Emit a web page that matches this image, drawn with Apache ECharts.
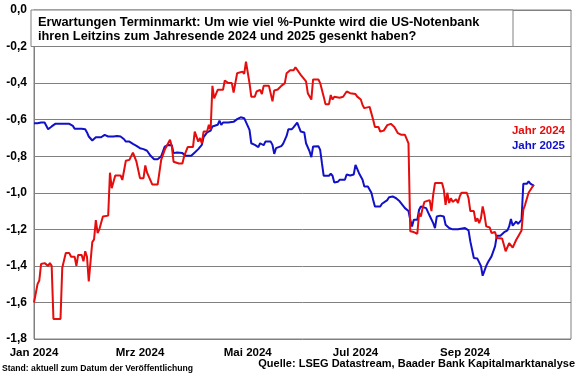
<!DOCTYPE html>
<html>
<head>
<meta charset="utf-8">
<script src="https://cdn.jsdelivr.net/npm/echarts@6/dist/echarts.min.js"></script>
<style>
html,body{margin:0;padding:0;background:#fff;}
#chart{width:580px;height:375px;}
</style>
</head>
<body>
<div id="chart"></div>
<script>
const titleLines = ['Erwartungen Terminmarkt: Um wie viel %-Punkte wird die US-Notenbank', 'ihren Leitzins zum Jahresende 2024 und 2025 gesenkt haben?'];
const seriesNames = ['Jahr 2024', 'Jahr 2025'];
const tickDates = ['2024-01-01', '2024-03-01', '2024-05-01', '2024-07-01', '2024-09-01'];
const tickLabels = ['Jan 2024', 'Mrz 2024', 'Mai 2024', 'Jul 2024', 'Sep 2024'];
const footLeft = 'Stand: aktuell zum Datum der Veröffentlichung';
const footRight = 'Quelle: LSEG Datastream, Baader Bank Kapitalmarktanalyse';

const redDates = ['2024-01-01','2024-01-03','2024-01-04','2024-01-05','2024-01-07','2024-01-09','2024-01-10','2024-01-11','2024-01-12','2024-01-16','2024-01-17','2024-01-18','2024-01-19','2024-01-21','2024-01-22','2024-01-24','2024-01-25','2024-01-26','2024-01-28','2024-01-29','2024-01-30','2024-01-31','2024-02-01','2024-02-02','2024-02-03','2024-02-04','2024-02-05','2024-02-06','2024-02-07','2024-02-09','2024-02-12','2024-02-13','2024-02-14','2024-02-15','2024-02-16','2024-02-19','2024-02-20','2024-02-22','2024-02-24','2024-02-25','2024-02-26','2024-02-27','2024-02-28','2024-02-29','2024-03-01','2024-03-03','2024-03-04','2024-03-05','2024-03-06','2024-03-08','2024-03-11','2024-03-13','2024-03-15','2024-03-18','2024-03-19','2024-03-20','2024-03-21','2024-03-23','2024-03-25','2024-03-26','2024-03-27','2024-03-28','2024-03-31','2024-04-01','2024-04-03','2024-04-04','2024-04-05','2024-04-06','2024-04-08','2024-04-09','2024-04-10','2024-04-11','2024-04-12','2024-04-13','2024-04-14','2024-04-17','2024-04-18','2024-04-20','2024-04-22','2024-04-23','2024-04-25','2024-04-28','2024-04-29','2024-04-30','2024-05-02','2024-05-03','2024-05-05','2024-05-06','2024-05-07','2024-05-08','2024-05-09','2024-05-10','2024-05-13','2024-05-14','2024-05-15','2024-05-16','2024-05-18','2024-05-20','2024-05-21','2024-05-22','2024-05-23','2024-05-25','2024-05-27','2024-05-28','2024-05-29','2024-05-31','2024-06-01','2024-06-03','2024-06-04','2024-06-06','2024-06-07','2024-06-08','2024-06-10','2024-06-11','2024-06-13','2024-06-14','2024-06-16','2024-06-17','2024-06-18','2024-06-19','2024-06-22','2024-06-23','2024-06-24','2024-06-26','2024-06-28','2024-07-01','2024-07-02','2024-07-04','2024-07-05','2024-07-06','2024-07-09','2024-07-11','2024-07-12','2024-07-14','2024-07-15','2024-07-17','2024-07-19','2024-07-21','2024-07-23','2024-07-25','2024-07-27','2024-07-29','2024-07-30','2024-07-31','2024-08-01','2024-08-03','2024-08-05','2024-08-06','2024-08-07','2024-08-08','2024-08-09','2024-08-12','2024-08-13','2024-08-14','2024-08-15','2024-08-19','2024-08-20','2024-08-21','2024-08-22','2024-08-23','2024-08-24','2024-08-25','2024-08-27','2024-08-28','2024-08-29','2024-08-30','2024-09-02','2024-09-03','2024-09-04','2024-09-06','2024-09-07','2024-09-08','2024-09-09','2024-09-10','2024-09-11','2024-09-12','2024-09-13','2024-09-15','2024-09-16','2024-09-18','2024-09-19','2024-09-20','2024-09-22','2024-09-23','2024-09-24','2024-09-25','2024-09-26','2024-09-27','2024-09-28','2024-09-29','2024-09-30','2024-10-01','2024-10-02','2024-10-03','2024-10-04','2024-10-05','2024-10-06','2024-10-07','2024-10-08','2024-10-09','2024-10-10'];
const redValues = [-1.60,-1.50,-1.48,-1.39,-1.385,-1.40,-1.385,-1.40,-1.69,-1.69,-1.41,-1.41,-1.33,-1.33,-1.35,-1.35,-1.40,-1.34,-1.34,-1.375,-1.32,-1.35,-1.485,-1.49,-1.27,-1.255,-1.15,-1.22,-1.20,-1.13,-1.125,-0.89,-0.975,-0.98,-0.905,-0.905,-0.93,-0.825,-0.82,-0.81,-0.78,-0.775,-0.83,-0.83,-0.92,-0.92,-0.85,-0.89,-0.88,-0.955,-0.955,-0.82,-0.765,-0.71,-0.745,-0.83,-0.82,-0.84,-0.84,-0.80,-0.79,-0.75,-0.75,-0.665,-0.72,-0.70,-0.73,-0.665,-0.665,-0.628,-0.655,-0.415,-0.483,-0.483,-0.437,-0.437,-0.386,-0.40,-0.40,-0.452,-0.346,-0.337,-0.35,-0.282,-0.40,-0.474,-0.474,-0.446,-0.455,-0.437,-0.46,-0.415,-0.415,-0.425,-0.50,-0.44,-0.435,-0.415,-0.425,-0.40,-0.346,-0.33,-0.33,-0.313,-0.32,-0.355,-0.365,-0.39,-0.455,-0.49,-0.38,-0.373,-0.38,-0.40,-0.474,-0.515,-0.515,-0.465,-0.49,-0.475,-0.48,-0.49,-0.475,-0.446,-0.455,-0.46,-0.474,-0.49,-0.52,-0.537,-0.53,-0.60,-0.64,-0.64,-0.665,-0.66,-0.63,-0.623,-0.64,-0.674,-0.683,-0.683,-0.69,-0.73,-1.21,-1.215,-1.224,-1.11,-1.13,-1.084,-1.05,-1.04,-1.10,-1.01,-0.947,-0.947,-0.984,-1.066,-1.00,-1.056,-1.03,-1.05,-1.035,-1.056,-1.02,-1.00,-1.00,-1.03,-1.10,-1.10,-1.157,-1.14,-1.166,-1.14,-1.075,-1.12,-1.184,-1.19,-1.22,-1.215,-1.248,-1.257,-1.25,-1.284,-1.32,-1.31,-1.275,-1.27,-1.30,-1.295,-1.257,-1.24,-1.25,-1.206,-1.093,-1.066,-1.07,-1.00,-1.00,-0.97,-0.956];

const blueDates = ['2024-01-01','2024-01-03','2024-01-05','2024-01-07','2024-01-09','2024-01-11','2024-01-13','2024-01-18','2024-01-19','2024-01-21','2024-01-23','2024-01-24','2024-01-28','2024-01-30','2024-01-31','2024-02-01','2024-02-03','2024-02-04','2024-02-05','2024-02-08','2024-02-10','2024-02-12','2024-02-13','2024-02-15','2024-02-17','2024-02-19','2024-02-21','2024-02-22','2024-02-24','2024-02-26','2024-02-28','2024-03-01','2024-03-03','2024-03-05','2024-03-07','2024-03-09','2024-03-11','2024-03-13','2024-03-15','2024-03-17','2024-03-19','2024-03-20','2024-03-22','2024-03-25','2024-03-27','2024-03-30','2024-04-01','2024-04-03','2024-04-05','2024-04-06','2024-04-08','2024-04-10','2024-04-11','2024-04-12','2024-04-14','2024-04-15','2024-04-16','2024-04-17','2024-04-20','2024-04-23','2024-04-25','2024-04-27','2024-04-28','2024-04-29','2024-04-30','2024-05-02','2024-05-03','2024-05-05','2024-05-07','2024-05-08','2024-05-10','2024-05-11','2024-05-14','2024-05-15','2024-05-16','2024-05-17','2024-05-18','2024-05-20','2024-05-21','2024-05-23','2024-05-24','2024-05-26','2024-05-27','2024-05-29','2024-05-30','2024-05-31','2024-06-02','2024-06-03','2024-06-05','2024-06-06','2024-06-07','2024-06-10','2024-06-11','2024-06-12','2024-06-13','2024-06-16','2024-06-17','2024-06-18','2024-06-19','2024-06-21','2024-06-22','2024-06-25','2024-06-26','2024-06-28','2024-06-30','2024-07-01','2024-07-02','2024-07-03','2024-07-04','2024-07-05','2024-07-06','2024-07-08','2024-07-10','2024-07-11','2024-07-12','2024-07-15','2024-07-16','2024-07-17','2024-07-19','2024-07-20','2024-07-21','2024-07-22','2024-07-24','2024-07-25','2024-07-26','2024-07-27','2024-07-29','2024-07-31','2024-08-01','2024-08-02','2024-08-03','2024-08-05','2024-08-06','2024-08-07','2024-08-08','2024-08-10','2024-08-12','2024-08-14','2024-08-15','2024-08-16','2024-08-17','2024-08-18','2024-08-20','2024-08-21','2024-08-22','2024-08-23','2024-08-25','2024-08-28','2024-08-29','2024-09-01','2024-09-03','2024-09-04','2024-09-06','2024-09-08','2024-09-10','2024-09-11','2024-09-13','2024-09-14','2024-09-15','2024-09-16','2024-09-18','2024-09-19','2024-09-21','2024-09-22','2024-09-23','2024-09-25','2024-09-26','2024-09-27','2024-09-28','2024-09-29','2024-09-30','2024-10-01','2024-10-03','2024-10-04','2024-10-06','2024-10-07','2024-10-08','2024-10-09','2024-10-10'];
const blueValues = [-0.62,-0.62,-0.616,-0.616,-0.652,-0.637,-0.623,-0.623,-0.62,-0.623,-0.634,-0.65,-0.65,-0.652,-0.67,-0.692,-0.714,-0.712,-0.696,-0.696,-0.683,-0.692,-0.686,-0.692,-0.689,-0.692,-0.707,-0.72,-0.72,-0.732,-0.743,-0.756,-0.761,-0.77,-0.798,-0.816,-0.816,-0.80,-0.747,-0.738,-0.74,-0.783,-0.78,-0.783,-0.798,-0.798,-0.78,-0.761,-0.738,-0.696,-0.67,-0.66,-0.637,-0.637,-0.628,-0.605,-0.628,-0.616,-0.616,-0.612,-0.597,-0.587,-0.587,-0.592,-0.583,-0.656,-0.729,-0.738,-0.75,-0.729,-0.74,-0.72,-0.72,-0.738,-0.787,-0.756,-0.756,-0.745,-0.732,-0.689,-0.652,-0.652,-0.641,-0.616,-0.641,-0.665,-0.67,-0.729,-0.774,-0.805,-0.747,-0.745,-0.765,-0.838,-0.907,-0.907,-0.896,-0.907,-0.944,-0.94,-0.929,-0.929,-0.90,-0.905,-0.90,-0.847,-0.855,-0.893,-0.89,-0.929,-0.966,-0.966,-1.00,-1.04,-1.075,-1.075,-1.06,-1.065,-1.04,-1.024,-1.03,-1.02,-1.03,-1.02,-1.047,-1.05,-1.084,-1.10,-1.148,-1.184,-1.148,-1.148,-1.093,-1.075,-1.085,-1.084,-1.126,-1.166,-1.193,-1.13,-1.12,-1.125,-1.13,-1.175,-1.165,-1.193,-1.20,-1.20,-1.193,-1.193,-1.206,-1.266,-1.357,-1.36,-1.40,-1.454,-1.40,-1.38,-1.375,-1.348,-1.293,-1.235,-1.235,-1.23,-1.217,-1.206,-1.184,-1.144,-1.18,-1.18,-1.157,-1.17,-1.148,-0.951,-0.951,-0.938,-0.95,-0.94,-0.962];

const parseDay = s => { const a = s.split('-').map(Number); return new Date(a[0], a[1] - 1, a[2]).getTime(); };
const tickTimes = tickDates.map(parseDay);
const pairs = (ds, vs) => ds.map((d, i) => [parseDay(d), vs[i]]);

const FONT = '"Liberation Sans", Arial, sans-serif';
const chart = echarts.init(document.getElementById('chart'), null, {renderer: 'canvas'});
chart.setOption({
  animation: false,
  backgroundColor: '#ffffff',
  grid: {left: 34, right: 9, top: 10, bottom: 36, show: true, borderColor: '#808080', borderWidth: 1},
  xAxis: {
    type: 'value',
    min: parseDay('2024-01-01'),
    max: parseDay('2024-10-31'),
    axisLine: {show: true, lineStyle: {color: '#808080', width: 1}},
    axisTick: {show: true, customValues: tickTimes, length: 4, lineStyle: {color: '#808080'}},
    splitLine: {show: false},
    axisLabel: {
      customValues: tickTimes,
      formatter: function (v) {
        let best = 0;
        tickTimes.forEach((t, i) => { if (Math.abs(t - v) < Math.abs(tickTimes[best] - v)) best = i; });
        return tickLabels[best];
      },
      color: '#000', fontFamily: FONT, fontWeight: 'bold', fontSize: 11.5, margin: 8
    }
  },
  yAxis: {
    type: 'value', min: -1.8, max: 0, interval: 0.2,
    axisLine: {show: true, lineStyle: {color: '#808080'}},
    axisTick: {show: false},
    splitLine: {show: true, lineStyle: {color: '#808080', width: 1}},
    axisLabel: {
      formatter: v => (Math.round(v * 10) / 10).toFixed(1).replace('.', ','),
      color: '#000', fontFamily: FONT, fontWeight: 'bold', fontSize: 12, margin: 7
    }
  },
  series: [
    {name: seriesNames[0], type: 'line', data: pairs(redDates, redValues), showSymbol: false, symbol: 'none',
     lineStyle: {color: '#e50d0d', width: 2}, itemStyle: {color: '#e50d0d'}, z: 3},
    {name: seriesNames[1], type: 'line', data: pairs(blueDates, blueValues), showSymbol: false, symbol: 'none',
     lineStyle: {color: '#1111c8', width: 2}, itemStyle: {color: '#1111c8'}, z: 2}
  ],
  graphic: [
    {type: 'rect', shape: {x: 31, y: 10, width: 482, height: 36.5}, style: {fill: '#fff', stroke: '#808080', lineWidth: 1}, z: 10},
    {type: 'text', x: 38, y: 22, z: 11, style: {text: titleLines[0], fill: '#000', font: 'bold 12.8px ' + FONT, textVerticalAlign: 'middle'}},
    {type: 'text', x: 38, y: 36.5, z: 11, style: {text: titleLines[1], fill: '#000', font: 'bold 12.8px ' + FONT, textVerticalAlign: 'middle'}},
    {type: 'text', x: 565, y: 131, z: 11, style: {text: seriesNames[0], fill: '#e50d0d', font: 'bold 11.5px ' + FONT, textAlign: 'right', textVerticalAlign: 'middle'}},
    {type: 'text', x: 565, y: 146, z: 11, style: {text: seriesNames[1], fill: '#1111c8', font: 'bold 11.5px ' + FONT, textAlign: 'right', textVerticalAlign: 'middle'}},
    {type: 'text', x: 2, y: 369, z: 11, style: {text: footLeft, fill: '#000', font: 'bold 8.6px ' + FONT, textVerticalAlign: 'middle'}},
    {type: 'text', x: 575, y: 363.5, z: 11, style: {text: footRight, fill: '#000', font: 'bold 11px ' + FONT, textAlign: 'right', textVerticalAlign: 'middle'}}
  ]
});
</script>
</body>
</html>
